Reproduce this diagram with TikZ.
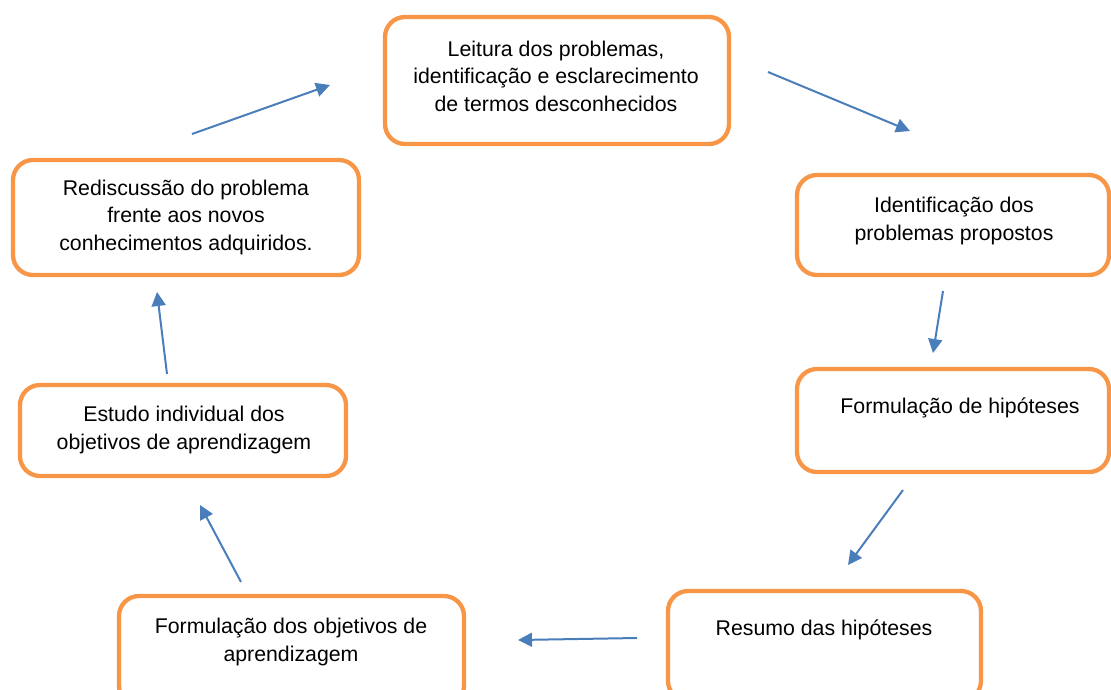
\documentclass[tikz,border=0pt]{standalone}
\usepackage{fontspec}
\setmainfont{Liberation Sans}
\usetikzlibrary{arrows.meta}
\definecolor{boxorange}{HTML}{F79646}
\definecolor{arrowblue}{HTML}{4A7EBB}
\tikzset{
  stepbox/.style={draw=boxorange, line width=4.3pt, rounded corners=20pt, fill=white, inner sep=0pt, outer sep=0pt},
  steptext/.style={align=center, inner sep=0pt, anchor=base, font=\fontsize{21.3}{27.5}\selectfont},
  flow/.style={draw=arrowblue, line width=2pt, -{Triangle[length=14pt,width=14pt]}}
}
\begin{document}
\begin{tikzpicture}[x=1pt,y=-1pt]
\useasboundingbox (0,0) rectangle (1111,689);
% boxes
\node[stepbox, minimum width=344pt, minimum height=127pt] (b1) at (557,80.5) {};
\node[stepbox, minimum width=312pt, minimum height=100pt] (b2) at (953,225) {};
\node[stepbox, minimum width=312pt, minimum height=103pt] (b3) at (953,420.5) {};
\node[stepbox, minimum width=313pt, minimum height=110pt] (b4) at (824.5,646) {};
\node[stepbox, minimum width=345pt, minimum height=110pt] (b5) at (291.5,651) {};
\node[stepbox, minimum width=326pt, minimum height=91pt] (b6) at (183,430.5) {};
\node[stepbox, minimum width=346pt, minimum height=115pt] (b7) at (186,217.5) {};
% texts (anchored at the baseline of the last line)
\node[steptext] (t1) at (556,111) {Leitura dos problemas,\\identificação e esclarecimento\\de termos desconhecidos};
\node[steptext] (t2) at (954,240) {Identificação dos\\problemas propostos};
\node[steptext] (t3) at (960,413) {Formulação de hipóteses};
\node[steptext] (t4) at (824,635) {Resumo das hipóteses};
\node[steptext] (t5) at (291,661) {Formulação dos objetivos de\\aprendizagem};
\node[steptext] (t6) at (184,449) {Estudo individual dos\\objetivos de aprendizagem};
\node[steptext] (t7) at (186,250) {Rediscussão do problema\\frente aos novos\\conhecimentos adquiridos.};
% arrow ends
\coordinate (a1s) at (768,72);  \coordinate (a1e) at (910,131);
\coordinate (a2s) at (943,291); \coordinate (a2e) at (933,353);
\coordinate (a3s) at (903,490); \coordinate (a3e) at (848,565);
\coordinate (a4s) at (637,638); \coordinate (a4e) at (518,640);
\coordinate (a5s) at (241,582); \coordinate (a5e) at (200,505);
\coordinate (a6s) at (167,374); \coordinate (a6e) at (157,292);
\coordinate (a7s) at (192,134); \coordinate (a7e) at (330,85);
\draw[flow] (a1s) -- (a1e);
\draw[flow] (a2s) -- (a2e);
\draw[flow] (a3s) -- (a3e);
\draw[flow] (a4s) -- (a4e);
\draw[flow] (a5s) -- (a5e);
\draw[flow] (a6s) -- (a6e);
\draw[flow] (a7s) -- (a7e);
\end{tikzpicture}
\end{document}
